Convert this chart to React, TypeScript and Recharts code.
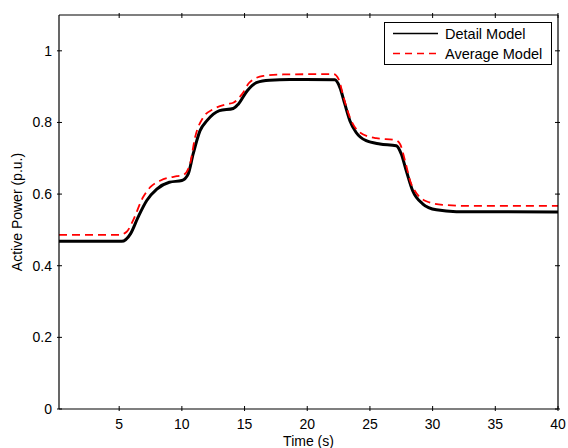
import React from 'react';
import { LineChart, Line, XAxis, YAxis, Legend } from 'recharts';

// time (s) / active power (p.u.)
const detailTime = [0.2, 5.2, 5.9, 6.5, 7.2, 8.0, 9.0, 10.0, 10.5, 10.9, 11.45, 12.0, 13.0, 14.1, 14.5, 15.2, 16.0, 17.0, 18.6, 22.2, 22.6, 23.0, 23.4, 23.9, 24.7, 25.8, 27.1, 27.5, 27.9, 28.4, 29.2, 30.3, 31.9, 40];
const detailPower = [0.468, 0.468, 0.489, 0.535, 0.582, 0.614, 0.633, 0.638, 0.656, 0.712, 0.777, 0.805, 0.833, 0.839, 0.851, 0.888, 0.912, 0.918, 0.920, 0.919, 0.898, 0.851, 0.805, 0.772, 0.749, 0.740, 0.735, 0.712, 0.665, 0.610, 0.573, 0.556, 0.551, 0.550];

const avgTime = [0.2, 5.0, 5.6, 6.1, 6.9, 7.5, 8.3, 9.6, 10.1, 10.65, 11.05, 11.7, 12.5, 13.6, 14.1, 14.8, 15.4, 16.5, 18.1, 22.1, 22.5, 22.9, 23.4, 24.2, 25.5, 27.0, 27.4, 27.8, 28.3, 29.5, 30.8, 33.0, 40];
const avgPower = [0.486, 0.486, 0.495, 0.526, 0.591, 0.620, 0.638, 0.650, 0.653, 0.684, 0.758, 0.814, 0.837, 0.851, 0.855, 0.879, 0.912, 0.930, 0.934, 0.935, 0.921, 0.870, 0.814, 0.772, 0.756, 0.751, 0.740, 0.693, 0.628, 0.580, 0.570, 0.567, 0.567];

const seriesNames = ['Detail Model', 'Average Model'];
const xTicks = [5, 10, 15, 20, 25, 30, 35, 40];
const yTicks = [0, 0.2, 0.4, 0.6, 0.8, 1];

const detailData = detailTime.map((t, i) => ({ t, p: detailPower[i] }));
const avgData = avgTime.map((t, i) => ({ t, p: avgPower[i] }));

const FONT = '"Liberation Sans", Arial, Helvetica, sans-serif';
const FS = 14;
const TICK = 5;

const BottomTick = ({ x, y, payload }: any) => (
  <g>
    <line x1={x} x2={x} y1={y} y2={y - TICK} stroke="#000" strokeWidth={1} />
    <text x={x} y={y + 18} textAnchor="middle" fontFamily={FONT} fontSize={FS} fill="#000">{payload.value}</text>
  </g>
);

const TopTick = ({ x, y }: any) => (
  <line x1={x} x2={x} y1={y} y2={y + TICK} stroke="#000" strokeWidth={1} />
);

const LeftTick = ({ x, y, payload }: any) => (
  <g>
    <line x1={x} x2={x + TICK} y1={y} y2={y} stroke="#000" strokeWidth={1} />
    <text x={x - 5} y={y + 5} textAnchor="end" fontFamily={FONT} fontSize={FS} fill="#000">{payload.value}</text>
  </g>
);

const RightTick = ({ x, y }: any) => (
  <line x1={x} x2={x - TICK} y1={y} y2={y} stroke="#000" strokeWidth={1} />
);

const YLabel = ({ viewBox }: any) => {
  const cx = 17;
  const cy = viewBox.y + viewBox.height / 2;
  return (
    <text x={cx} y={cy} transform={`rotate(-90, ${cx}, ${cy})`} textAnchor="middle" dominantBaseline="central" fontFamily={FONT} fontSize={FS} fill="#000">
      Active Power (p.u.)
    </text>
  );
};

const XLabel = ({ viewBox }: any) => {
  const cx = viewBox.x + viewBox.width / 2;
  return (
    <text x={cx} y={viewBox.y + 37} textAnchor="middle" fontFamily={FONT} fontSize={FS} fill="#000">
      Time (s)
    </text>
  );
};

const LegendBox = ({ payload }: any) => {
  const items = [...(payload || [])].sort((a: any, b: any) => seriesNames.indexOf(a.value) - seriesNames.indexOf(b.value));
  return (
    <svg width={169} height={43} style={{ display: 'block' }}>
      <rect x={0.5} y={0.5} width={167} height={42} fill="#fff" stroke="#000" strokeWidth={1} />
      {items.map((item: any, i: number) => {
        const cy = 11.5 + i * 20;
        return (
          <g key={i}>
            <line x1={9} x2={54} y1={cy} y2={cy} stroke={item.color} strokeWidth={1.3}
              strokeDasharray={item.payload && item.payload.strokeDasharray ? '7 5' : undefined} />
            <text x={61} y={cy + 5} fontFamily={FONT} fontSize={14.5} fill="#000">{item.value}</text>
          </g>
        );
      })}
    </svg>
  );
};

const axisLine = { stroke: '#000', strokeWidth: 1.2 };

export default function App() {
  return (
    <div style={{ position: 'absolute', left: 0, top: 0, background: '#fff' }}>
      <LineChart width={568} height={448} margin={{ top: 14, right: 9, bottom: 0, left: 0 }}>
        <XAxis xAxisId="b" dataKey="t" type="number" domain={[0.2, 40]} ticks={xTicks} allowDataOverflow
          height={39} tickSize={0} tick={<BottomTick />} tickLine={false} axisLine={axisLine}
          label={<XLabel />} />
        <XAxis xAxisId="top" dataKey="t" orientation="top" type="number" domain={[0.2, 40]} ticks={xTicks} allowDataOverflow
          height={1} tickSize={0} tick={<TopTick />} tickLine={false} axisLine={axisLine} />
        <YAxis yAxisId="l" type="number" domain={[0, 1.1]} ticks={yTicks} allowDataOverflow
          width={59} tickSize={0} tick={<LeftTick />} tickLine={false} axisLine={axisLine}
          label={<YLabel />} />
        <YAxis yAxisId="r" orientation="right" type="number" domain={[0, 1.1]} ticks={yTicks} allowDataOverflow
          width={1} tickSize={0} tick={<RightTick />} tickLine={false} axisLine={axisLine} />
        <Legend layout="vertical" align="center" verticalAlign="middle" content={<LegendBox />} itemSorter={null as any}
          wrapperStyle={{ left: 384, top: 22, width: 169, height: 43 }} />
        <Line xAxisId="b" yAxisId="l" data={detailData} dataKey="p" name="Detail Model" type="monotone"
          stroke="#000" strokeWidth={3} dot={false} activeDot={false} isAnimationActive={false} />
        <Line xAxisId="top" yAxisId="r" data={avgData} dataKey="p" name="Average Model" type="monotone"
          stroke="#ff0000" strokeWidth={1.8} strokeDasharray="8 5" dot={false} activeDot={false} isAnimationActive={false} />
      </LineChart>
    </div>
  );
}
